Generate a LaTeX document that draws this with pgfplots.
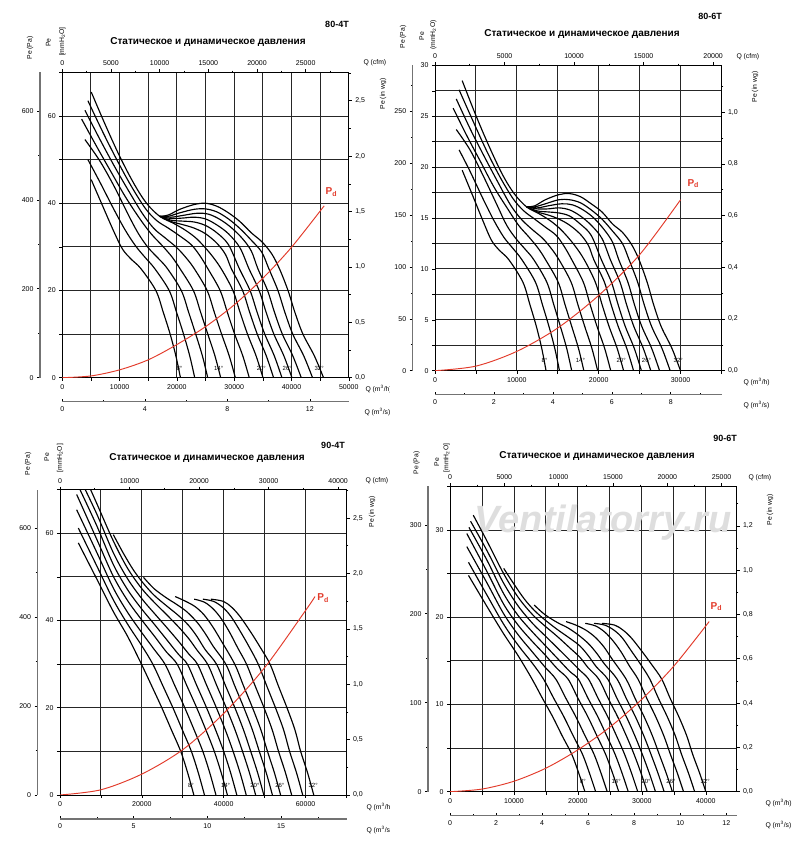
\documentclass[border=0pt]{standalone}
\usepackage{fontspec}
\setmainfont{Liberation Sans}
\usepackage{pgfplots}
\pgfplotsset{compat=1.18}
\definecolor{pdred}{RGB}{226,58,42}
\newcommand\ttl{\fontsize{10}{12}\selectfont\bfseries}
\newcommand\mdl{\fontsize{9}{11}\selectfont\bfseries}
\newcommand\lbl{\fontsize{6.8}{8}\selectfont}
\tikzset{
  ang/.style={font=\fontsize{6}{6}\selectfont, inner sep=0.5pt},
  pdl/.style={text=pdred, font=\fontsize{10}{10}\selectfont\bfseries},
}
\pgfplotsset{
  every axis/.append style={
    scale only axis, width=286.5pt, height=305.3pt,
    scaled ticks=false,
    tick label style={font=\fontsize{7}{8}\selectfont},
    /pgf/number format/assume math mode=true,
    /pgf/number format/1000 sep={},
    major tick length=3pt, minor tick length=1.8pt,
    tick style={black, line width=0.6pt},
  },
  mainax/.style={anchor=south west, xmin=0, ymin=0, grid=major,
    major grid style={black!85, line width=0.9pt},
    axis line style={black, line width=0.9pt},
    tick align=outside, xtick pos=left, ytick pos=left, clip=true},
  topax/.style={anchor=south west, xmin=0, ymin=0, ymax=1, axis x line*=top,
    hide y axis, tick align=outside, x axis line style={-, line width=0.9pt}},
  rightax/.style={anchor=south west, xmin=0, xmax=1, ymin=0, axis y line*=right,
    hide x axis, tick align=outside, y axis line style={-, line width=0.9pt},
    y tick label style={/pgf/number format/.cd, fixed, fixed zerofill, precision=1, use comma, /tikz/.cd}},
  paax/.style={anchor=south west, width=1pt, xmin=0, xmax=1, ymin=0, axis y line*=left,
    hide x axis, tick align=outside, y axis line style={-, black!55, line width=1.4pt}},
  m3sax/.style={anchor=south west, height=1pt, ymin=0, ymax=1, xmin=0, axis x line*=bottom,
    hide y axis, tick align=inside, x axis line style={-, black!55, line width=1.4pt},
    xticklabel style={yshift=-1pt}},
  crv/.style={black, line width=1.15pt, smooth, tension=0.55},
  pd/.style={pdred, line width=0.95pt, smooth},
}
\begin{document}
\begin{tikzpicture}
\useasboundingbox (0pt,0pt) rectangle (800pt,852pt);

%%%%%%%%%%%%%%%%%%%%%%%% PANEL 1: 80-4T
\begin{axis}[mainax, at={(62.3pt,474.3pt)}, xmax=50000, ymax=70,
  xtick={0,5000,...,50000}, xticklabels={0,,10000,,20000,,30000,,40000,,50000},
  ytick={0,10,...,70}, yticklabels={0,,20,,40,,60,}]
\addplot[crv] coordinates {(5050,45.4)(7000,39.5)(9000,33.5)(10500,29.5)(12000,27.2)(13720,25.0)(16320,20.0)(17620,15.0)(18820,10.0)(19820,5.0)(20620,0)};
\addplot[crv] coordinates {(4470,50.0)(6500,45.0)(9000,38.6)(11000,33.8)(12800,30.2)(14500,27.5)(16140,25.0)(18650,20.0)(19940,15.0)(21160,10.0)(22240,5.0)(23110,0)};
\addplot[crv] coordinates {(3950,54.6)(6500,49.8)(9000,44.0)(11500,37.4)(13300,33.0)(15000,29.8)(16800,27.3)(18350,25.0)(20760,20.0)(22050,15.0)(23280,10.0)(24450,5.0)(25380,0)};
\addplot[crv] coordinates {(3370,59.3)(6000,53.0)(8500,47.2)(11000,41.5)(13500,36.5)(15500,33.0)(17500,30.2)(19200,27.6)(20540,25.0)(22870,20.0)(24140,15.0)(25390,10.0)(26640,5.0)(27640,0)};
\addplot[crv] coordinates {(3950,61.3)(6500,54.8)(9000,48.7)(11500,43.0)(14000,37.6)(16000,34.2)(18000,32.0)(20000,29.8)(21600,27.5)(23030,25.0)(25270,20.0)(26530,15.0)(27800,10.0)(29130,5.0)(30200,0)};
\addplot[crv] coordinates {(4470,63.5)(7000,56.5)(9500,50.0)(12000,44.0)(14500,38.8)(16500,36.0)(18500,34.3)(20500,32.5)(22500,30.5)(24000,28.0)(25400,25.0)(27540,20.0)(28800,15.0)(30080,10.0)(31500,5.0)(32630,0)};
\addplot[crv] coordinates {(5050,65.5)(7500,58.0)(10000,50.8)(12500,44.5)(14700,40.0)(17000,37.0)(19400,35.4)(21500,33.8)(23500,31.8)(25800,28.5)(27720,25.0)(29770,20.0)(31020,15.0)(32320,10.0)(33820,5.0)(35020,0)};
\addplot[crv] coordinates {(17000,37.0)(19000,35.8)(21000,35.1)(23000,34.3)(25000,33.0)(27000,30.8)(28500,28.2)(29500,25.0)(31460,20.0)(32700,15.0)(34020,10.0)(35600,5.0)(36870,0)};
\addplot[crv] coordinates {(17000,37.0)(19000,36.1)(21000,35.9)(23000,35.7)(25000,34.9)(27000,33.2)(29000,30.5)(30900,25.0)(32760,20.0)(34000,15.0)(35330,10.0)(37000,5.0)(38330,0)};
\addplot[crv] coordinates {(17000,37.0)(19000,36.5)(21000,36.6)(23000,36.8)(25000,36.4)(27000,35.0)(29000,33.0)(31000,29.8)(32570,25.0)(34350,20.0)(35570,15.0)(36920,10.0)(38670,5.0)(40070,0)};
\addplot[crv] coordinates {(17000,37.0)(19000,36.8)(21000,37.2)(23500,37.7)(25500,37.5)(27500,36.3)(29500,34.4)(31500,31.8)(33000,29.0)(34130,25.0)(35820,20.0)(37030,15.0)(38400,10.0)(40230,5.0)(41700,0)};
\addplot[crv] coordinates {(17000,37.0)(18500,37.0)(20500,37.8)(23000,38.6)(25000,38.7)(27000,38.0)(29000,36.4)(31000,34.2)(33000,31.5)(34800,28.8)(36040,25.0)(37630,20.0)(38840,15.0)(40220,10.0)(42140,5.0)(43670,0)};
\addplot[crv] coordinates {(17000,37.0)(18500,37.3)(20500,38.6)(23000,39.7)(25000,40.0)(27000,39.3)(29000,37.8)(31000,35.8)(33000,33.2)(34800,31.2)(36500,28.5)(37890,25.0)(39390,20.0)(40590,15.0)(41990,10.0)(43990,5.0)(45590,0)};
\addplot[pd] coordinates {(0,0)(5000,0.4)(10000,1.8)(15000,4.1)(20000,7.6)(25000,11.7)(30000,16.7)(35000,22.8)(40000,29.9)(45700,39.4)};
\node[pdl] at (axis cs:46970,42.5) {P\textsubscript{d}};
\node[ang] at (axis cs:20440,2.1) {8°};
\node[ang] at (axis cs:27290,2.1) {14°};
\node[ang] at (axis cs:34730,2.1) {20°};
\node[ang] at (axis cs:39260,2.1) {26°};
\node[ang] at (axis cs:44830,2.1) {32°};
\end{axis}
\begin{axis}[topax, at={(62.3pt,474.3pt)}, xmax=29429, xtick={0,5000,...,25000}, minor xtick={2500,7500,...,27500}]
\end{axis}
\begin{axis}[rightax, at={(62.3pt,474.3pt)}, ymax=2.7559, ytick={0,0.5,1,1.5,2,2.5}, minor ytick={0.25,0.75,1.25,1.75,2.25,2.75}]
\end{axis}
\begin{axis}[paax, at={(40pt,474.3pt)}, ymax=686.5, ytick={0,200,400,600}, minor ytick={100,300,500}]
\end{axis}
\begin{axis}[m3sax, at={(62.3pt,450.3pt)}, xmax=13.889, xtick={0,4,8,12}, minor xtick={2,6,10}]
\end{axis}
\node[font=\ttl] at (208pt,810pt) {Статическое и динамическое давления};
\node[font=\mdl] at (337pt,828pt) {80-4T};
\node[rotate=90, font=\lbl] at (30pt,804pt) {Pe (Pa)};
\node[rotate=90, font=\lbl] at (48.3pt,809.3pt) {Pe};
\node[rotate=90, font=\lbl] at (62.3pt,810.3pt) {{[}mmH\textsubscript{2}O{]}};
\node[font=\lbl, anchor=west] at (360pt,789pt) {Q (cfm)};
\node[rotate=90, font=\lbl] at (383pt,758pt) {Pe (in wg)};
\begin{scope}
\clip (0pt,0pt) rectangle (389pt,852pt);
\node[font=\lbl, anchor=west] at (362pt,463pt) {Q (m\textsuperscript{3}/h)};
\node[font=\lbl, anchor=west] at (361pt,440pt) {Q (m\textsuperscript{3}/s)};
\end{scope}

%%%%%%%%%%%%%%%%%%%%%%%% PANEL 2: 80-6T
\begin{axis}[mainax, at={(435pt,481.3pt)}, xmax=35000, ymax=30,
  xtick={0,5000,...,35000}, xticklabels={0,,10000,,20000,,30000,},
  ytick={0,2.5,5,7.5,10,12.5,15,17.5,20,22.5,25,27.5,30}, yticklabels={0,,5,,10,,15,,20,,25,,30}]
\addplot[crv] coordinates {(3322,19.7)(4605,17.2)(5921,14.6)(6908,12.8)(7895,11.8)(9026,10.9)(10737,8.7)(11592,6.5)(12382,4.35)(13040,2.2)(13566,0)};
\addplot[crv] coordinates {(2941,21.7)(4276,19.6)(5921,16.8)(7237,14.7)(8421,13.1)(9540,12.0)(10618,10.9)(12270,8.7)(13119,6.5)(13921,4.35)(14632,2.2)(15204,0)};
\addplot[crv] coordinates {(2599,23.7)(4276,21.7)(5921,19.1)(7566,16.3)(8750,14.3)(9868,13.0)(11053,11.9)(12072,10.9)(13658,8.7)(14507,6.5)(15316,4.35)(16086,2.2)(16697,0)};
\addplot[crv] coordinates {(2217,25.8)(3947,23.0)(5592,20.5)(7237,18.0)(8882,15.9)(10197,14.3)(11513,13.1)(12632,12.0)(13513,10.9)(15046,8.7)(15882,6.5)(16704,4.35)(17526,2.2)(18184,0)};
\addplot[crv] coordinates {(2599,26.7)(4276,23.8)(5921,21.2)(7566,18.7)(9211,16.3)(10526,14.9)(11842,13.9)(13158,13.0)(14211,12.0)(15151,10.9)(16625,8.7)(17454,6.5)(18290,4.35)(19165,2.2)(19868,0)};
\addplot[crv] coordinates {(2941,27.6)(4605,24.6)(6250,21.7)(7895,19.1)(9540,16.9)(10855,15.7)(12171,14.9)(13487,14.1)(14803,13.3)(15790,12.2)(16711,10.9)(18119,8.7)(18948,6.5)(19790,4.35)(20724,2.2)(21467,0)};
\addplot[crv] coordinates {(3322,28.5)(4934,25.2)(6579,22.1)(8224,19.3)(9671,17.4)(11184,16.1)(12763,15.4)(14145,14.7)(15461,13.8)(16974,12.4)(18237,10.9)(19586,8.7)(20408,6.5)(21263,4.35)(22250,2.2)(23040,0)};
\addplot[crv] coordinates {(11184,16.1)(12500,15.6)(13816,15.3)(15132,14.9)(16447,14.3)(17763,13.4)(18750,12.3)(19408,10.9)(20697,8.7)(21513,6.5)(22382,4.35)(23421,2.2)(24257,0)};
\addplot[crv] coordinates {(11184,16.1)(12500,15.7)(13816,15.6)(15132,15.5)(16447,15.2)(17763,14.4)(19079,13.3)(20329,10.9)(21553,8.7)(22368,6.5)(23243,4.35)(24342,2.2)(25217,0)};
\addplot[crv] coordinates {(11184,16.1)(12500,15.9)(13816,15.9)(15132,16.0)(16447,15.8)(17763,15.2)(19079,14.3)(20395,13.0)(21428,10.9)(22599,8.7)(23401,6.5)(24289,4.35)(25441,2.2)(26362,0)};
\addplot[crv] coordinates {(11184,16.1)(12500,16.0)(13816,16.2)(15461,16.4)(16776,16.3)(18092,15.8)(19408,15.0)(20724,13.8)(21711,12.6)(22454,10.9)(23566,8.7)(24362,6.5)(25263,4.35)(26467,2.2)(27434,0)};
\addplot[crv] coordinates {(11184,16.1)(12171,16.1)(13487,16.4)(15132,16.8)(16447,16.8)(17763,16.5)(19079,15.8)(20395,14.9)(21711,13.7)(22895,12.5)(23711,10.9)(24757,8.7)(25553,6.5)(26461,4.35)(27724,2.2)(28730,0)};
\addplot[crv] coordinates {(11184,16.1)(12171,16.2)(13487,16.8)(15132,17.3)(16447,17.4)(17763,17.1)(19079,16.4)(20395,15.6)(21711,14.4)(22895,13.6)(24013,12.4)(24928,10.9)(25915,8.7)(26704,6.5)(27625,4.35)(28941,2.2)(29993,0)};
\addplot[pd] coordinates {(0,0)(5000,0.45)(10000,1.9)(15000,4.2)(20000,7.4)(25000,11.4)(30000,16.8)};
\node[pdl] at (axis cs:31550,18.4) {P\textsubscript{d}};
\node[ang] at (axis cs:13390,1.0) {8°};
\node[ang] at (axis cs:17760,1.0) {14°};
\node[ang] at (axis cs:22740,1.0) {20°};
\node[ang] at (axis cs:25840,1.0) {26°};
\node[ang] at (axis cs:29720,1.0) {32°};
\end{axis}
\begin{axis}[topax, at={(435pt,481.3pt)}, xmax=20600, xtick={0,5000,...,20000}, minor xtick={2500,7500,...,17500}]
\end{axis}
\begin{axis}[rightax, at={(435pt,481.3pt)}, ymax=1.1811, ytick={0,0.2,0.4,0.6,0.8,1}, minor ytick={0.1,0.3,0.5,0.7,0.9,1.1}]
\end{axis}
\begin{axis}[paax, at={(412.7pt,481.3pt)}, ymax=294.2, ytick={0,50,100,150,200,250}, minor ytick={25,75,125,175,225,275}]
\end{axis}
\begin{axis}[m3sax, at={(435pt,457.3pt)}, xmax=9.722, xtick={0,2,4,6,8}, minor xtick={1,3,5,7,9}]
\end{axis}
\node[font=\ttl] at (582pt,817.7pt) {Статическое и динамическое давления};
\node[font=\mdl] at (710pt,835.3pt) {80-6T};
\node[rotate=90, font=\lbl] at (403pt,815pt) {Pe (Pa)};
\node[rotate=90, font=\lbl] at (421.7pt,816pt) {Pe};
\node[rotate=90, font=\lbl] at (433.3pt,817pt) {(mmH\textsubscript{2}O)};
\node[font=\lbl, anchor=west] at (733pt,795.3pt) {Q (cfm)};
\node[rotate=90, font=\lbl] at (755pt,765pt) {Pe (in wg)};
\node[font=\lbl, anchor=west] at (740pt,470pt) {Q (m\textsuperscript{3}/h)};
\node[font=\lbl, anchor=west] at (740pt,447pt) {Q (m\textsuperscript{3}/s)};

%%%%%%%%%%%%%%%%%%%%%%%% PANEL 3: 90-4T
\begin{axis}[mainax, at={(60pt,57pt)}, xmax=70000, ymax=70,
  xtick={0,10000,...,70000}, xticklabels={0,,20000,,40000,,60000,},
  ytick={0,10,...,70}, yticklabels={0,,20,,40,,60,}]
\addplot[crv] coordinates {(4480,57.8)(9000,49.5)(13000,42.1)(16500,36.4)(19900,30)(22410,25)(24880,20)(27190,15)(29500,10)(31220,5)(32700,0)};
\addplot[crv] coordinates {(4480,61.2)(9000,52.5)(13000,44.8)(16500,39.2)(20000,34.2)(22680,30)(25150,25)(27590,20)(29860,15)(32100,10)(33820,5)(35300,0)};
\addplot[crv] coordinates {(4070,65.4)(9000,55.6)(13000,47.5)(16500,41.9)(20000,37.2)(23000,33.4)(25650,30)(28090,25)(30490,20)(32740,15)(34900,10)(36620,5)(38100,0)};
\addplot[crv] coordinates {(4070,68.9)(9000,58.6)(13000,50.2)(16500,44.6)(20000,40.1)(23000,36.5)(26000,32.8)(28630,30)(31020,25)(33400,20)(35610,15)(37700,10)(39420,5)(40900,0)};
\addplot[crv] coordinates {(4590,70.6)(9000,61.7)(13000,52.9)(16500,47.1)(20000,42.6)(23000,39.2)(26000,35.7)(29000,32.2)(31110,30)(33460,25)(35810,20)(37990,15)(40000,10)(41720,5)(43200,0)};
\addplot[crv] coordinates {(4990,72.3)(9000,64.4)(13000,55.6)(16500,49.6)(20000,45.0)(23000,41.7)(26000,38.5)(29000,35.2)(31500,32.3)(33580,30)(35900,25)(38210,20)(40360,15)(42300,10)(44020,5)(45500,0)};
\addplot[crv] coordinates {(5640,73.9)(9000,66.8)(13000,58.3)(16500,52.0)(20000,47.3)(23000,44.2)(26000,41.4)(29000,38.5)(31500,35.8)(33500,33.2)(36060,30)(38340,25)(40620,20)(42740,15)(44600,10)(46320,5)(47800,0)};
\addplot[crv] coordinates {(13020,59.7)(15500,55.4)(18000,51.5)(20400,48.5)(23000,45.8)(26000,43.4)(29000,41.1)(31500,38.8)(33500,36.3)(35500,33.3)(38240,30)(40470,25)(42730,20)(44810,15)(46600,10)(48320,5)(49800,0)};
\addplot[crv] coordinates {(20400,49.9)(23000,47.3)(26000,45.2)(28500,43.7)(31000,42.0)(33500,39.6)(35500,37.0)(37500,34.0)(40510,30)(42710,25)(44930,20)(46980,15)(48700,10)(50420,5)(51900,0)};
\addplot[crv] coordinates {(28140,45.5)(30500,44.5)(33000,43.2)(35200,41.3)(37300,38.6)(39300,35.5)(42690,30)(44850,25)(47040,20)(49060,15)(50700,10)(52420,5)(53900,0)};
\addplot[crv] coordinates {(32780,44.9)(35300,44.2)(37500,42.6)(39500,40.3)(41500,37.2)(43500,33.6)(45570,30)(47690,25)(49850,20)(51830,15)(53400,10)(55120,5)(56600,0)};
\addplot[crv] coordinates {(34900,44.9)(37500,44.4)(39800,43.0)(41800,40.9)(44000,37.6)(46200,34.0)(48440,30)(50520,25)(52650,20)(54610,15)(56100,10)(57820,5)(59300,0)};
\addplot[crv] coordinates {(36850,44.9)(39900,44.4)(42000,43.0)(44000,40.9)(46500,37.5)(48840,34.0)(51320,30)(53360,25)(55460,20)(57380,15)(58800,10)(60520,5)(62000,0)};
\addplot[pd] coordinates {(0,0)(10000,1.2)(20000,4.8)(30000,10.4)(40000,18.7)(50000,29.2)(60000,42.3)(62300,45.5)};
\node[pdl] at (axis cs:64300,45.1) {P\textsubscript{d}};
\node[ang] at (axis cs:32000,2.3) {8°};
\node[ang] at (axis cs:40460,2.3) {14°};
\node[ang] at (axis cs:47620,2.3) {20°};
\node[ang] at (axis cs:53720,2.3) {26°};
\node[ang] at (axis cs:61860,2.3) {32°};
\end{axis}
\begin{axis}[topax, at={(60pt,57pt)}, xmax=41201, xtick={0,10000,...,40000}, minor xtick={5000,15000,...,35000}]
\end{axis}
\begin{axis}[rightax, at={(60pt,57pt)}, ymax=2.7559, ytick={0,0.5,1,1.5,2,2.5}, minor ytick={0.25,0.75,1.25,1.75,2.25,2.75}]
\end{axis}
\begin{axis}[paax, at={(37.5pt,57pt)}, ymax=686.5, ytick={0,200,400,600}, minor ytick={100,300,500}]
\end{axis}
\begin{axis}[m3sax, at={(60pt,33pt)}, xmax=19.444, xtick={0,5,10,15}, minor xtick={2.5,7.5,12.5,17.5}]
\end{axis}
\node[font=\ttl] at (207pt,393.7pt) {Статическое и динамическое давления};
\node[font=\mdl] at (333pt,407pt) {90-4T};
\node[rotate=90, font=\lbl] at (28pt,388pt) {Pe (Pa)};
\node[rotate=90, font=\lbl] at (46.7pt,394.7pt) {Pe};
\node[rotate=90, font=\lbl] at (60pt,393.7pt) {{[}mmH\textsubscript{2}O{]}};
\node[font=\lbl, anchor=west] at (362pt,371pt) {Q (cfm)};
\node[rotate=90, font=\lbl] at (372pt,340pt) {Pe (in wg)};
\begin{scope}
\clip (0pt,0pt) rectangle (389pt,852pt);
\node[font=\lbl, anchor=west] at (363pt,45.3pt) {Q (m\textsuperscript{3}/h)};
\node[font=\lbl, anchor=west] at (363pt,22pt) {Q (m\textsuperscript{3}/s)};
\end{scope}

%%%%%%%%%%%%%%%%%%%%%%%% PANEL 4: 90-6T
\begin{axis}[mainax, at={(450pt,60.3pt)}, xmax=44800, ymax=35,
  xtick={0,5000,...,40000}, xticklabels={0,,10000,,20000,,30000,,40000},
  ytick={0,5,...,35}, yticklabels={0,,10,,20,,30,}]
\node[font=\fontsize{38}{40}\selectfont\bfseries\itshape, text=black!13] at (rel axis cs:0.535,0.882) {Ventilatorry.ru};
\addplot[crv] coordinates {(2890,24.8)(5807,21.2)(8388,18.1)(10646,15.6)(12839,12.9)(14459,10.7)(16053,8.6)(17543,6.4)(19033,4.3)(20143,2.1)(21098,0)};
\addplot[crv] coordinates {(2890,26.3)(5807,22.5)(8388,19.2)(10646,16.8)(12904,14.7)(14633,12.9)(16227,10.7)(17801,8.6)(19266,6.4)(20711,4.3)(21821,2.1)(22776,0)};
\addplot[crv] coordinates {(2626,28.1)(5807,23.9)(8388,20.4)(10646,18.0)(12904,16.0)(14840,14.3)(16549,12.9)(18124,10.7)(19672,8.6)(21124,6.4)(22517,4.3)(23627,2.1)(24582,0)};
\addplot[crv] coordinates {(2626,29.6)(5807,25.2)(8388,21.5)(10646,19.1)(12904,17.2)(14840,15.7)(16775,14.1)(18472,12.9)(20014,10.7)(21550,8.6)(22976,6.4)(24324,4.3)(25434,2.1)(26389,0)};
\addplot[crv] coordinates {(2961,30.3)(5807,26.5)(8388,22.7)(10646,20.2)(12904,18.3)(14840,16.8)(16775,15.3)(18711,13.8)(20072,12.9)(21588,10.7)(23105,8.6)(24511,6.4)(25808,4.3)(26918,2.1)(27873,0)};
\addplot[crv] coordinates {(3220,31.0)(5807,27.6)(8388,23.9)(10646,21.3)(12904,19.3)(14840,17.9)(16775,16.5)(18711,15.1)(20324,13.9)(21666,12.9)(23163,10.7)(24653,8.6)(26040,6.4)(27292,4.3)(28402,2.1)(29357,0)};
\addplot[crv] coordinates {(3639,31.7)(5807,28.7)(8388,25.0)(10646,22.3)(12904,20.3)(14840,19.0)(16775,17.8)(18711,16.5)(20324,15.4)(21614,14.2)(23266,12.9)(24737,10.7)(26208,8.6)(27576,6.4)(28776,4.3)(29886,2.1)(30841,0)};
\addplot[crv] coordinates {(8400,25.6)(10001,23.8)(11614,22.1)(13162,20.8)(14840,19.7)(16775,18.6)(18711,17.6)(20324,16.7)(21614,15.6)(22905,14.3)(24672,12.9)(26111,10.7)(27569,8.6)(28911,6.4)(30066,4.3)(31176,2.1)(32131,0)};
\addplot[crv] coordinates {(13162,21.4)(14840,20.3)(16775,19.4)(18388,18.8)(20001,18.0)(21614,17.0)(22905,15.9)(24195,14.6)(26137,12.9)(27557,10.7)(28989,8.6)(30311,6.4)(31421,4.3)(32531,2.1)(33486,0)};
\addplot[crv] coordinates {(18156,19.5)(19679,19.1)(21292,18.5)(22711,17.7)(24066,16.6)(25356,15.2)(27544,12.9)(28937,10.7)(30350,8.6)(31653,6.4)(32712,4.3)(33821,2.1)(34776,0)};
\addplot[crv] coordinates {(21150,19.3)(22776,19.0)(24195,18.3)(25485,17.3)(26776,16.0)(28066,14.4)(29402,12.9)(30770,10.7)(32163,8.6)(33441,6.4)(34454,4.3)(35563,2.1)(36518,0)};
\addplot[crv] coordinates {(22517,19.3)(24195,19.1)(25679,18.5)(26969,17.6)(28389,16.1)(29808,14.6)(31253,12.9)(32595,10.7)(33970,8.6)(35234,6.4)(36196,4.3)(37306,2.1)(38260,0)};
\addplot[crv] coordinates {(23776,19.3)(25743,19.1)(27098,18.5)(28389,17.6)(30002,16.1)(31512,14.6)(33112,12.9)(34428,10.7)(35783,8.6)(37021,6.4)(37938,4.3)(39047,2.1)(40002,0)};
\addplot[pd] coordinates {(0,0)(5000,0.3)(10000,1.2)(15000,2.7)(20000,4.8)(25000,7.4)(30000,10.6)(35000,14.4)(40520,19.5)};
\node[pdl] at (axis cs:41660,21.2) {P\textsubscript{d}};
\node[ang] at (axis cs:20780,1.2) {8°};
\node[ang] at (axis cs:25980,1.2) {14°};
\node[ang] at (axis cs:30650,1.2) {20°};
\node[ang] at (axis cs:34550,1.2) {26°};
\node[ang] at (axis cs:39900,1.2) {32°};
\end{axis}
\begin{axis}[topax, at={(450pt,60.3pt)}, xmax=26369, xtick={0,5000,...,25000}, minor xtick={2500,7500,...,22500}]
\end{axis}
\begin{axis}[rightax, at={(450pt,60.3pt)}, ymax=1.378, ytick={0,0.2,0.4,0.6,0.8,1,1.2}, minor ytick={0.1,0.3,0.5,0.7,0.9,1.1,1.3}]
\end{axis}
\begin{axis}[paax, at={(428pt,60.3pt)}, ymax=343.2, ytick={0,100,200,300}, minor ytick={50,150,250}]
\end{axis}
\begin{axis}[m3sax, at={(450pt,36.3pt)}, xmax=12.444, xtick={0,2,4,6,8,10,12}, minor xtick={1,3,5,7,9,11}]
\end{axis}
\node[font=\ttl] at (597pt,396.3pt) {Статическое и динамическое давления};
\node[font=\mdl] at (725pt,414pt) {90-6T};
\node[rotate=90, font=\lbl] at (416.7pt,389pt) {Pe (Pa)};
\node[rotate=90, font=\lbl] at (436.7pt,390pt) {Pe};
\node[rotate=90, font=\lbl] at (446.7pt,394pt) {{[}mmH\textsubscript{2}O{]}};
\node[font=\lbl, anchor=west] at (745pt,374.3pt) {Q (cfm)};
\node[rotate=90, font=\lbl] at (770pt,342pt) {Pe (in wg)};
\node[font=\lbl, anchor=west] at (762pt,49pt) {Q (m\textsuperscript{3}/h)};
\node[font=\lbl, anchor=west] at (762pt,26.5pt) {Q (m\textsuperscript{3}/s)};
\end{tikzpicture}
\end{document}
